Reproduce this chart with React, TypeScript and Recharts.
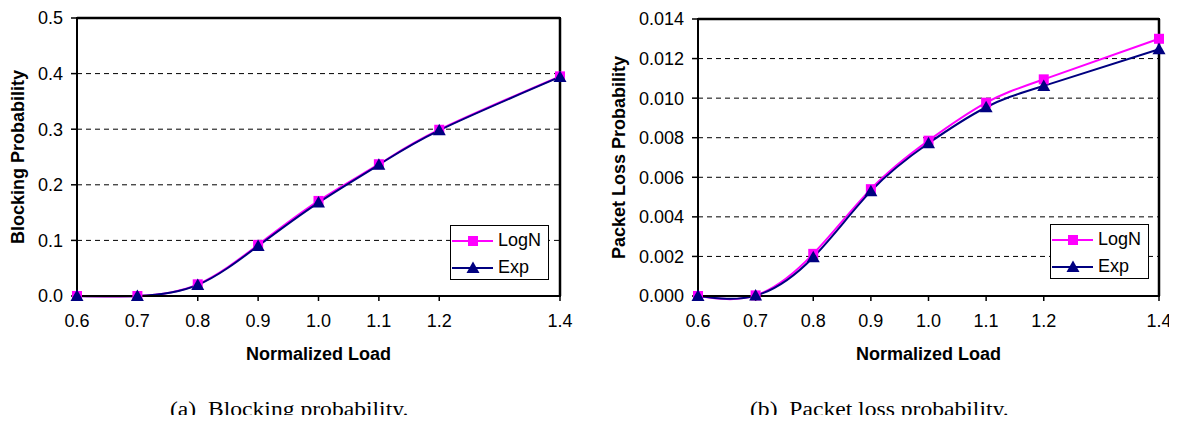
import React from 'react';
import { LineChart, Line, XAxis, YAxis, CartesianGrid, Legend, ReferenceLine, ReferenceArea } from 'recharts';

// x values (normalized load) and tick labels
const LOADS = [0.6, 0.7, 0.8, 0.9, 1.0, 1.1, 1.2, 1.4];
const X_TICKS = [0.6, 0.7, 0.8, 0.9, 1.0, 1.1, 1.2, 1.4];

// (a) blocking probability
const BLOCK_LOGN = [0, 0, 0.021, 0.092, 0.171, 0.237, 0.299, 0.395];
const BLOCK_EXP = [0, 0, 0.02, 0.09, 0.168, 0.236, 0.298, 0.394];
const BLOCK_TICKS = [0, 0.1, 0.2, 0.3, 0.4, 0.5];

// (b) packet loss probability
const LOSS_LOGN = [0, 0.00003, 0.00213, 0.0054, 0.00785, 0.00977, 0.01095, 0.013];
const LOSS_EXP = [0, 0.00002, 0.00196, 0.0053, 0.00772, 0.00954, 0.01062, 0.01247];
const LOSS_TICKS = [0, 0.002, 0.004, 0.006, 0.008, 0.01, 0.012, 0.014];

const SERIES = [
  { key: 'logn', name: 'LogN', color: '#FF00FF', marker: 'square' },
  { key: 'exp', name: 'Exp', color: '#000080', marker: 'triangle' },
];

const FONT = '"Liberation Sans", Arial, sans-serif';

const blockData = LOADS.map((x, i) => ({ x, logn: BLOCK_LOGN[i], exp: BLOCK_EXP[i] }));
const lossData = LOADS.map((x, i) => ({ x, logn: LOSS_LOGN[i], exp: LOSS_EXP[i] }));

const renderMarker = (marker: string, color: string) => (p: any) => {
  const { cx, cy, index } = p;
  if (marker === 'square') {
    return <rect key={`sq-${index}`} x={cx - 5} y={cy - 5} width={10} height={10} fill={color} />;
  }
  return (
    <path
      key={`tr-${index}`}
      d={`M${cx},${cy - 6.5} L${cx + 6.5},${cy + 5} L${cx - 6.5},${cy + 5} Z`}
      fill={color}
    />
  );
};

const LegendBox = () => (
  <div
    style={{
      boxSizing: 'border-box',
      width: 99,
      height: 55,
      border: '1px solid #000',
      background: '#fff',
      fontFamily: FONT,
      fontSize: 18,
      color: '#000',
      paddingTop: 1,
    }}
  >
    {SERIES.map((s) => (
      <div key={s.key} style={{ display: 'flex', alignItems: 'center', height: 27 }}>
        <svg width={46} height={16} style={{ display: 'block' }}>
          <line x1={1} y1={8} x2={42} y2={8} stroke={s.color} strokeWidth={2} />
          {s.marker === 'square' ? (
            <rect x={17} y={3} width={10} height={10} fill={s.color} />
          ) : (
            <path d="M22,1.5 L28.5,13 L15.5,13 Z" fill={s.color} />
          )}
        </svg>
        <span style={{ marginLeft: 1 }}>{s.name}</span>
      </div>
    ))}
  </div>
);

const tickStyle = { fill: '#000', fontSize: 18, fontFamily: FONT };
const titleStyle = { fill: '#000', fontSize: 18, fontWeight: 'bold', fontFamily: FONT };

interface PanelProps {
  data: any[];
  yTicks: number[];
  yMax: number;
  digits: number;
  yTitle: string;
  yAxisWidth: number;
  yTitleX: number;
  width: number;
  top: number;
  legendLeft: number;
  legendTop: number;
}

const Panel = ({ data, yTicks, yMax, digits, yTitle, yAxisWidth, yTitleX, width, top, legendLeft, legendTop }: PanelProps) => (
  <LineChart
    width={width}
    height={370}
    data={data}
    margin={{ top, right: 18, bottom: 10, left: 0 }}
    style={{ fontFamily: FONT }}
  >
    <CartesianGrid vertical={false} stroke="#000" strokeDasharray="5 4" horizontalValues={yTicks} />
    <XAxis
      dataKey="x"
      type="number"
      domain={[0.6, 1.4]}
      ticks={X_TICKS}
      tickFormatter={(v: number) => v.toFixed(1)}
      tick={tickStyle}
      tickSize={5}
      tickMargin={13}
      axisLine={{ stroke: '#000', strokeWidth: 2 }}
      tickLine={{ stroke: '#000', strokeWidth: 1.5 }}
      height={64}
      label={{ value: 'Normalized Load', position: 'insideBottom', offset: 0, style: titleStyle }}
    />
    <YAxis
      type="number"
      domain={[0, yMax]}
      ticks={yTicks}
      tickFormatter={(v: number) => v.toFixed(digits)}
      tick={tickStyle}
      tickSize={6}
      tickMargin={8}
      width={yAxisWidth}
      axisLine={{ stroke: '#000', strokeWidth: 2 }}
      tickLine={{ stroke: '#000', strokeWidth: 1.5 }}
      label={{
        value: yTitle,
        angle: -90,
        position: 'insideLeft',
        offset: yTitleX,
        style: { ...titleStyle, textAnchor: 'middle' },
      }}
    />
    {/* plot-area frame (top and right edges) */}
    <ReferenceArea x1={0.6} x2={1.4} y1={0} y2={yMax} fill="none" fillOpacity={0} stroke="#000" strokeWidth={2} />
    <ReferenceLine y={yMax} stroke="#000" strokeWidth={2.5} />
    <ReferenceLine x={1.4} stroke="#000" strokeWidth={2.5} />
    {SERIES.map((s) => (
      <Line
        key={s.key}
        dataKey={s.key}
        name={s.name}
        type="natural"
        stroke={s.color}
        strokeWidth={2}
        dot={renderMarker(s.marker, s.color)}
        activeDot={false}
        isAnimationActive={false}
      />
    ))}
    <Legend
      layout="vertical"
      align="center"
      verticalAlign="middle"
      content={() => <LegendBox />}
      wrapperStyle={{ left: legendLeft, top: legendTop, width: 99, height: 55, margin: 0 }}
    />
  </LineChart>
);

const captionStyle: React.CSSProperties = {
  position: 'absolute',
  top: 399,
  fontFamily: '"Liberation Serif", "Times New Roman", serif',
  fontSize: 20,
  lineHeight: '20px',
  color: '#000',
  whiteSpace: 'pre',
  transform: 'scaleX(1.18)',
  transformOrigin: 'left top',
};

export default function App() {
  return (
    <div style={{ position: 'relative', width: 1177, height: 423, margin: -8, background: '#fff' }}>
      <div style={{ display: 'flex', gap: 20 }}>
        <Panel
          data={blockData}
          yTicks={BLOCK_TICKS}
          yMax={0.5}
          digits={1}
          yTitle="Blocking Probability"
          yAxisWidth={77}
          yTitleX={18}
          width={578}
          top={18}
          legendLeft={450}
          legendTop={225}
        />
        <Panel
          data={lossData}
          yTicks={LOSS_TICKS}
          yMax={0.014}
          digits={3}
          yTitle="Packet Loss Probability"
          yAxisWidth={100}
          yTitleX={21}
          width={579}
          top={19}
          legendLeft={452}
          legendTop={224}
        />
      </div>
      <div style={{ ...captionStyle, left: 170 }}>(a)  Blocking probability.</div>
      <div style={{ ...captionStyle, left: 750 }}>(b)  Packet loss probability.</div>
    </div>
  );
}
